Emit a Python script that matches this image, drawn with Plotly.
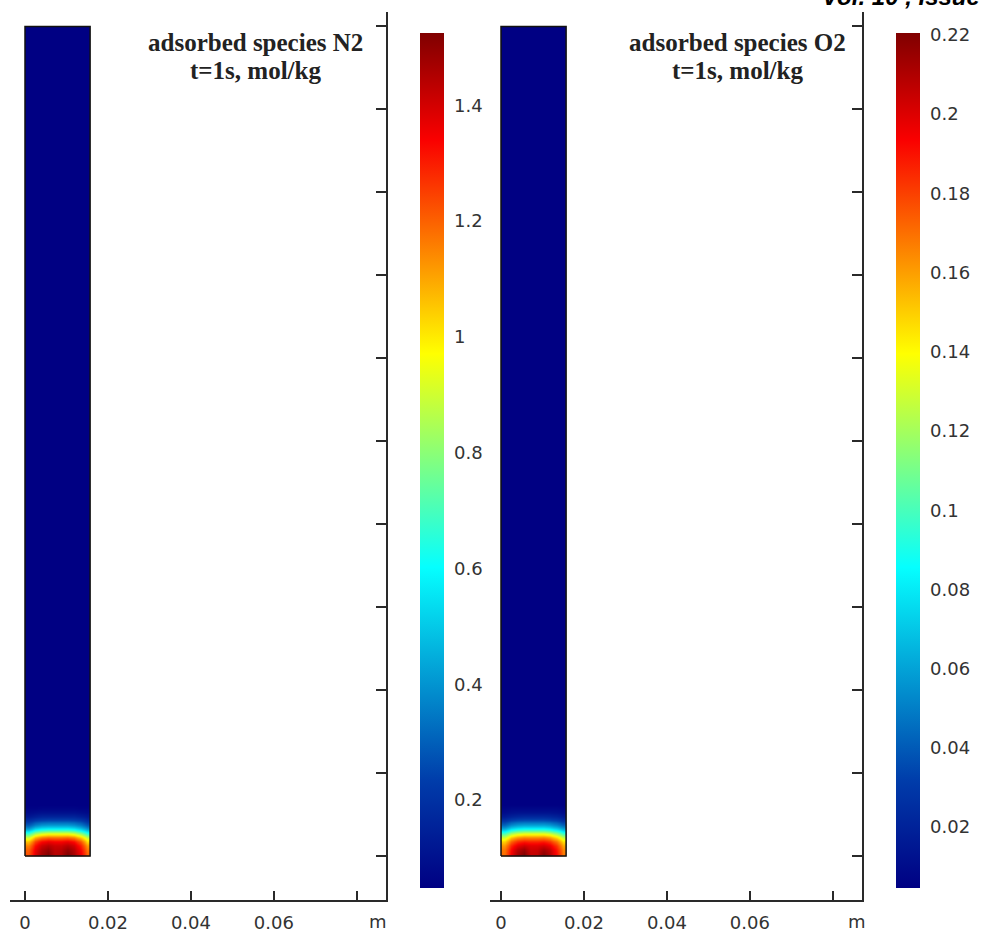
import plotly.graph_objects as go

W, H = 982, 934

# ---------------- data ----------------
# column edges across the adsorber (m) and row edges along its height (m)
x_edges = [0.0, 0.00157, 0.00314, 0.00471, 0.00628, 0.00785, 0.00942, 0.01099, 0.01256, 0.01413, 0.0157]
y_edges = [0.0, 0.001, 0.002, 0.003, 0.004, 0.005, 0.006, 0.007, 0.008, 0.009, 0.010, 0.011, 0.012, 0.013, 0.2]

# adsorbed N2 (mol/kg), rows bottom -> top
n2_values = [
    [1.22, 1.38, 1.47, 1.52, 1.44, 1.45, 1.52, 1.46, 1.36, 1.20],
    [1.20, 1.36, 1.45, 1.49, 1.43, 1.44, 1.49, 1.44, 1.34, 1.17],
    [1.15, 1.32, 1.41, 1.44, 1.41, 1.41, 1.44, 1.40, 1.30, 1.12],
    [1.06, 1.24, 1.33, 1.36, 1.34, 1.34, 1.36, 1.32, 1.22, 1.02],
    [0.90, 1.08, 1.16, 1.19, 1.18, 1.18, 1.19, 1.15, 1.05, 0.88],
    [0.68, 0.84, 0.91, 0.94, 0.94, 0.94, 0.94, 0.90, 0.81, 0.66],
    [0.45, 0.57, 0.62, 0.64, 0.64, 0.64, 0.64, 0.61, 0.54, 0.44],
    [0.29, 0.36, 0.40, 0.41, 0.41, 0.41, 0.41, 0.39, 0.35, 0.28],
    [0.19, 0.23, 0.25, 0.26, 0.26, 0.26, 0.26, 0.25, 0.23, 0.18],
    [0.12, 0.14, 0.16, 0.16, 0.16, 0.16, 0.16, 0.16, 0.14, 0.12],
    [0.08, 0.09, 0.10, 0.10, 0.10, 0.10, 0.10, 0.10, 0.09, 0.08],
    [0.06, 0.06, 0.065, 0.065, 0.065, 0.065, 0.065, 0.065, 0.06, 0.06],
    [0.048, 0.048, 0.048, 0.048, 0.048, 0.048, 0.048, 0.048, 0.048, 0.048],
    [0.048, 0.048, 0.048, 0.048, 0.048, 0.048, 0.048, 0.048, 0.048, 0.048],
]

# adsorbed O2 (mol/kg), rows bottom -> top
o2_values = [
    [0.170, 0.195, 0.212, 0.220, 0.205, 0.206, 0.218, 0.208, 0.192, 0.168],
    [0.168, 0.192, 0.208, 0.214, 0.203, 0.204, 0.212, 0.205, 0.189, 0.165],
    [0.161, 0.185, 0.198, 0.203, 0.199, 0.199, 0.202, 0.196, 0.182, 0.158],
    [0.149, 0.172, 0.184, 0.188, 0.186, 0.186, 0.188, 0.182, 0.169, 0.146],
    [0.129, 0.151, 0.162, 0.166, 0.165, 0.165, 0.166, 0.160, 0.147, 0.126],
    [0.100, 0.120, 0.130, 0.134, 0.134, 0.134, 0.134, 0.128, 0.116, 0.097],
    [0.068, 0.083, 0.090, 0.093, 0.093, 0.093, 0.093, 0.088, 0.079, 0.066],
    [0.043, 0.053, 0.058, 0.060, 0.060, 0.060, 0.060, 0.057, 0.051, 0.042],
    [0.027, 0.033, 0.036, 0.037, 0.037, 0.037, 0.037, 0.035, 0.032, 0.026],
    [0.016, 0.020, 0.022, 0.023, 0.023, 0.023, 0.023, 0.022, 0.020, 0.016],
    [0.010, 0.012, 0.013, 0.013, 0.013, 0.013, 0.013, 0.013, 0.012, 0.010],
    [0.007, 0.008, 0.008, 0.008, 0.008, 0.008, 0.008, 0.008, 0.008, 0.007],
    [0.0046, 0.0046, 0.0046, 0.0046, 0.0046, 0.0046, 0.0046, 0.0046, 0.0046, 0.0046],
    [0.0046, 0.0046, 0.0046, 0.0046, 0.0046, 0.0046, 0.0046, 0.0046, 0.0046, 0.0046],
]

n2_range = [0.048, 1.525]
o2_range = [0.0046, 0.2205]

x_tickvals = [0, 0.02, 0.04, 0.06, 0.08]
x_ticktext = ["0", "0.02", "0.04", "0.06", ""]
y_tickvals = [0, 0.02, 0.04, 0.06, 0.08, 0.10, 0.12, 0.14, 0.16, 0.18, 0.20]

n2_cb_vals = [0.2, 0.4, 0.6, 0.8, 1.0, 1.2, 1.4]
n2_cb_text = ["0.2", "0.4", "0.6", "0.8", "1", "1.2", "1.4"]
o2_cb_vals = [0.02, 0.04, 0.06, 0.08, 0.10, 0.12, 0.14, 0.16, 0.18, 0.20, 0.22]
o2_cb_text = ["0.02", "0.04", "0.06", "0.08", "0.1", "0.12", "0.14", "0.16", "0.18", "0.2", "0.22"]

titles = [("adsorbed species N2", "t=1s, mol/kg"), ("adsorbed species O2", "t=1s, mol/kg")]
header_text = "Vol. 10 , Issue"

# ---------------- layout helpers ----------------
def px_x(p):
    return p / W

def px_y(p):
    return 1 - p / H

PPM = 4148.0          # pixels per metre
axis_top, axis_bottom, y0_px = 12, 900, 856
panels = [dict(left=10, right=386, x0=25), dict(left=490, right=862, x0=501)]

AX_COL = "#2a2a2a"
TICK_FONT = dict(family="DejaVu Sans", size=18, color="#333333")
jet = [[0.0, "rgb(0,0,131)"], [0.125, "rgb(0,60,170)"], [0.375, "rgb(5,255,255)"],
       [0.625, "rgb(255,255,0)"], [0.875, "rgb(250,0,0)"], [1.0, "rgb(128,0,0)"]]

fig = go.Figure()

datasets = [(n2_values, n2_range, n2_cb_vals, n2_cb_text, 420),
            (o2_values, o2_range, o2_cb_vals, o2_cb_text, 896)]

for i, (vals, zr, cbv, cbt, cbx) in enumerate(datasets):
    xa = "x" if i == 0 else "x2"
    ya = "y" if i == 0 else "y2"
    fig.add_trace(go.Heatmap(
        x=x_edges, y=y_edges, z=vals, zmin=zr[0], zmax=zr[1],
        colorscale=jet, zsmooth="best", xaxis=xa, yaxis=ya,
        colorbar=dict(x=px_x(cbx), xanchor="left", xpad=0, y=px_y(460.5), yanchor="middle",
                      ypad=0, len=855, lenmode="pixels", thickness=24, thicknessmode="pixels",
                      outlinewidth=0, tickvals=cbv, ticktext=cbt, ticks="outside", ticklen=7,
                      tickcolor="rgba(255,255,255,0)", tickfont=TICK_FONT),
        hoverinfo="skip"))
    w = x_edges[-1]
    h = y_edges[-1]
    fig.add_trace(go.Scatter(x=[0, w, w, 0, 0], y=[0, 0, h, h, 0], mode="lines",
                             line=dict(color="#111111", width=1.5), xaxis=xa, yaxis=ya,
                             showlegend=False, hoverinfo="skip"))

layout = dict(width=W, height=H, margin=dict(l=0, r=0, t=0, b=0),
              paper_bgcolor="white", plot_bgcolor="white", showlegend=False)

for i, p in enumerate(panels):
    sx = "" if i == 0 else "2"
    layout["xaxis" + sx] = dict(
        domain=[px_x(p["left"]), px_x(p["right"])],
        range=[(p["left"] - p["x0"]) / PPM, (p["right"] - p["x0"]) / PPM],
        anchor="y" + sx, tickvals=x_tickvals, ticktext=x_ticktext,
        ticks="inside", ticklen=9, tickwidth=1.5, tickcolor=AX_COL,
        showline=True, linewidth=1.5, linecolor=AX_COL, showgrid=False, zeroline=False,
        tickfont=TICK_FONT, ticklabelstandoff=6, fixedrange=True)
    layout["yaxis" + sx] = dict(
        domain=[px_y(axis_bottom), px_y(axis_top)],
        range=[(y0_px - axis_bottom) / PPM, (y0_px - axis_top) / PPM],
        anchor="x" + sx, side="right", tickvals=y_tickvals, showticklabels=False,
        ticks="inside", ticklen=10, tickwidth=1.5, tickcolor=AX_COL,
        showline=True, linewidth=1.5, linecolor=AX_COL, showgrid=False, zeroline=False,
        fixedrange=True)

annotations = []
title_cx = [255, 737]
for (l1, l2), cx in zip(titles, title_cx):
    annotations.append(dict(text="<b>%s</b>" % l1, x=px_x(cx), y=px_y(42), xref="paper", yref="paper",
                            xanchor="center", yanchor="middle", showarrow=False,
                            font=dict(family="Liberation Serif", size=25, color="#222222")))
    annotations.append(dict(text="<b>%s</b>" % l2, x=px_x(cx), y=px_y(70), xref="paper", yref="paper",
                            xanchor="center", yanchor="middle", showarrow=False,
                            font=dict(family="Liberation Serif", size=25, color="#222222")))
for mx in [378, 857]:
    annotations.append(dict(text="m", x=px_x(mx), y=px_y(921), xref="paper", yref="paper",
                            xanchor="center", yanchor="middle", showarrow=False, font=TICK_FONT))
annotations.append(dict(text="<b><i>%s</i></b>" % header_text, x=px_x(820), y=px_y(12), xref="paper",
                        yref="paper", xanchor="left", yanchor="bottom", showarrow=False,
                        font=dict(family="Liberation Sans", size=24, color="black")))
layout["annotations"] = annotations

fig.update_layout(**layout)
fig.write_html("out.html")
